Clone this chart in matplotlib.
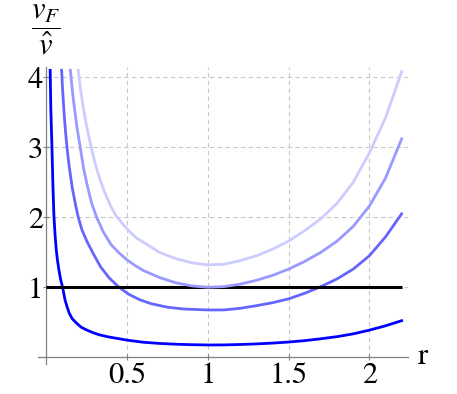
import matplotlib
matplotlib.use('Agg')
import matplotlib.pyplot as plt

# ------------------------- 数据 -------------------------
# 四条曲线, 颜色由深到浅
r1 = [0.023, 0.027, 0.034, 0.040, 0.046, 0.053, 0.060, 0.068, 0.077, 0.088, 0.100,
      0.115, 0.128, 0.141, 0.160, 0.187, 0.215, 0.249, 0.290, 0.331, 0.380, 0.435,
      0.500, 0.600, 0.700, 0.800, 0.900, 1.000, 1.100, 1.200, 1.300, 1.400, 1.500,
      1.600, 1.700, 1.800, 1.900, 2.000, 2.100, 2.200]
v1 = [4.10, 3.55, 3.00, 2.45, 2.03, 1.76, 1.55, 1.39, 1.25, 1.11, 1.00,
      0.82, 0.72, 0.63, 0.55, 0.486, 0.43, 0.39, 0.35, 0.319, 0.293, 0.271,
      0.245, 0.215, 0.198, 0.187, 0.180, 0.176, 0.177, 0.183, 0.191, 0.203, 0.218,
      0.238, 0.265, 0.295, 0.335, 0.388, 0.450, 0.523]

r2 = [0.094, 0.100, 0.110, 0.120, 0.130, 0.140, 0.160, 0.180, 0.197, 0.220, 0.250,
      0.290, 0.336, 0.390, 0.450, 0.510, 0.580, 0.650, 0.750, 0.850, 1.000, 1.100,
      1.200, 1.300, 1.400, 1.500, 1.600, 1.700, 1.800, 1.900, 2.000, 2.100, 2.200]
v2 = [4.10, 3.82, 3.46, 3.17, 2.94, 2.74, 2.42, 2.18, 2.00, 1.82, 1.66,
      1.48, 1.29, 1.13, 1.00, 0.90, 0.82, 0.765, 0.715, 0.69, 0.676, 0.677,
      0.70, 0.737, 0.78, 0.835, 0.915, 1.01, 1.12, 1.26, 1.45, 1.72, 2.05]

r3 = [0.148, 0.160, 0.170, 0.190, 0.212, 0.230, 0.250, 0.280, 0.311, 0.350, 0.400,
      0.450, 0.500, 0.550, 0.600, 0.700, 0.800, 0.900, 1.000, 1.100, 1.200, 1.300,
      1.400, 1.500, 1.600, 1.700, 1.800, 1.900, 2.000, 2.100, 2.200]
v3 = [4.10, 3.82, 3.62, 3.27, 2.96, 2.70, 2.48, 2.20, 2.00, 1.80, 1.61,
      1.49, 1.39, 1.31, 1.24, 1.14, 1.065, 1.02, 1.00, 1.01, 1.045, 1.10,
      1.17, 1.26, 1.37, 1.50, 1.66, 1.87, 2.16, 2.56, 3.12]

r4 = [0.197, 0.210, 0.225, 0.240, 0.260, 0.277, 0.300, 0.330, 0.360, 0.400, 0.435,
      0.470, 0.517, 0.560, 0.610, 0.700, 0.800, 0.900, 1.000, 1.100, 1.200, 1.300,
      1.400, 1.500, 1.600, 1.700, 1.800, 1.900, 2.000, 2.100, 2.200]
v4 = [4.10, 3.84, 3.61, 3.41, 3.18, 3.00, 2.78, 2.55, 2.36, 2.15, 2.01,
      1.91, 1.79, 1.70, 1.63, 1.50, 1.41, 1.35, 1.32, 1.33, 1.38, 1.45,
      1.545, 1.66, 1.81, 1.98, 2.20, 2.50, 2.92, 3.42, 4.08]

colors = ['#0000ff', '#6666ff', '#9999ff', '#ccccff']
x_ticks = [0.5, 1, 1.5, 2]
x_tick_labels = ['0.5', '1', '1.5', '2']
y_ticks = [1, 2, 3, 4]
y_tick_labels = ['1', '2', '3', '4']

# ------------------------- 绘图 -------------------------
# STIXGeneral 随 matplotlib 自带, 类似 Times
plt.rcParams['font.family'] = ['STIXGeneral', 'DejaVu Serif']
plt.rcParams['mathtext.fontset'] = 'stix'

fig = plt.figure(figsize=(4.57, 3.94), dpi=100)
ax = fig.add_axes([0.084, 0.0754, 0.809, 0.755])
ax.set_xlim(-0.05, 2.24)
ax.set_ylim(-0.1, 4.15)

# 虚线网格
for xt in x_ticks:
    ax.plot([xt, xt], [0, 4.15], color='#c8c8c8', lw=0.8, ls=(0, (4, 3)), zorder=0)
for yt in y_ticks:
    ax.plot([0, 2.24], [yt, yt], color='#c8c8c8', lw=0.8, ls=(0, (4, 3)), zorder=0)

ax.plot(r1, v1, color=colors[0], lw=2.0, zorder=2)
ax.plot(r2, v2, color=colors[1], lw=2.0, zorder=2)
ax.hlines(1, 0, 2.2, color='black', lw=2.2, zorder=3)
ax.plot(r3, v3, color=colors[2], lw=2.0, zorder=4)
ax.plot(r4, v4, color=colors[3], lw=2.0, zorder=4)

# 坐标轴
for s in ['top', 'right']:
    ax.spines[s].set_visible(False)
ax.spines['left'].set_position(('data', 0))
ax.spines['bottom'].set_position(('data', 0))
for s in ['left', 'bottom']:
    ax.spines[s].set_color('#808080')
    ax.spines[s].set_linewidth(0.9)

ax.set_xticks(x_ticks)
ax.set_xticklabels(x_tick_labels)
ax.set_yticks(y_ticks)
ax.set_yticklabels(y_tick_labels)
ax.tick_params(axis='both', direction='inout', length=5, width=0.8, color='#808080',
               labelsize=22)
ax.tick_params(axis='x', pad=1)
ax.tick_params(axis='y', pad=0)

ax.text(2.33, 0.0, 'r', fontsize=22, ha='center', va='center')
ax.text(0.0, 4.68, r'$\dfrac{v_F}{\hat{v}}$', fontsize=22, ha='center', va='center')

fig.savefig('out.png', dpi=100)
